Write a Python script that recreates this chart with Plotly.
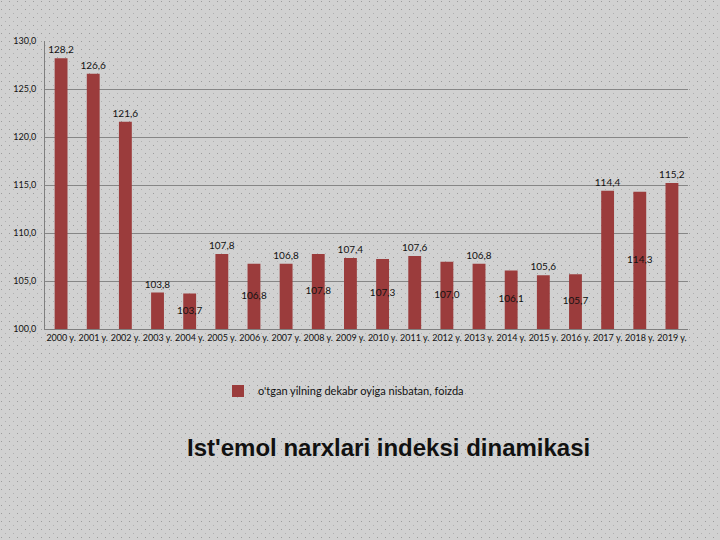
import base64
import plotly.graph_objects as go

years = ["2000 y.", "2001 y.", "2002 y.", "2003 y.", "2004 y.", "2005 y.", "2006 y.",
         "2007 y.", "2008 y.", "2009 y.", "2010 y.", "2011 y.", "2012 y.", "2013 y.",
         "2014 y.", "2015 y.", "2016 y.", "2017 y.", "2018 y.", "2019 y."]
values = [128.2, 126.6, 121.6, 103.8, 103.7, 107.8, 106.8, 106.8, 107.8, 107.4,
          107.3, 107.6, 107.0, 106.8, 106.1, 105.6, 105.7, 114.4, 114.3, 115.2]
label_outside = [True, True, True, True, False, True, False, True, False, True,
                 False, True, False, True, False, True, False, True, False, True]
y_ticks = [100, 105, 110, 115, 120, 125, 130]
y_tick_text = ["100,0", "105,0", "110,0", "115,0", "120,0", "125,0", "130,0"]
series_name = "o'tgan yilning dekabr oyiga nisbatan, foizda"
title_text = "Ist'emol narxlari indeksi dinamikasi"

W, H = 720, 540
L, R, T, B = 45, 32, 41, 211
pw, ph = W - L - R, H - T - B
Y0 = 100

svg = f'''<svg xmlns="http://www.w3.org/2000/svg" width="{W}" height="{H}">
<defs><pattern id="p" width="8" height="8" patternUnits="userSpaceOnUse">
<rect x="1" y="1" width="1" height="1" fill="#9c9c9c"/>
<rect x="5" y="5" width="1" height="1" fill="#b0b0b0"/>
</pattern></defs>
<rect width="{W}" height="{H}" fill="#d1d1d1"/>
<rect width="{W}" height="{H}" fill="url(#p)"/>
</svg>'''
img = "data:image/svg+xml;base64," + base64.b64encode(svg.encode()).decode()

def fmt(v):
    return f"{v:.1f}".replace(".", ",")

out_text = [fmt(v) if o else "" for v, o in zip(values, label_outside)]
in_x = [c for c, o in zip(years, label_outside) if not o]
in_y = [(Y0 + v) / 2 for v, o in zip(values, label_outside) if not o]
in_text = [fmt(v) for v, o in zip(values, label_outside) if not o]

label_font = dict(family="Lato, Carlito, sans-serif", size=10, color="#111111")

fig = go.Figure()
fig.add_trace(go.Bar(
    x=years, y=values, name=series_name,
    marker=dict(color="#9b3c3c", line=dict(width=0)),
    text=out_text, textposition="outside", textangle=0, constraintext="none",
    textfont=label_font, cliponaxis=False, hoverinfo="skip",
))
fig.add_trace(go.Scatter(
    x=in_x, y=in_y, text=in_text, mode="text", textposition="middle center",
    textfont=label_font, showlegend=False, hoverinfo="skip", cliponaxis=False,
))

fig.update_layout(
    width=W, height=H,
    margin=dict(l=L, r=R, t=T, b=B),
    paper_bgcolor="#d1d1d1",
    plot_bgcolor="rgba(0,0,0,0)",
    separators=",.",
    bargap=0.6,
    showlegend=True,
    legend=dict(x=(218 - L) / pw, y=(T + ph - 391) / ph, xanchor="left", yanchor="middle",
                orientation="h", bgcolor="rgba(0,0,0,0)",
                font=dict(family="Lato, Carlito, sans-serif", size=11, color="#111111"),
                itemwidth=30),
    font=dict(family="Lato, Carlito, sans-serif", size=9, color="#111111"),
    xaxis=dict(showgrid=False, showline=True, linecolor="#7f7f7f", linewidth=1,
               ticks="", tickfont=dict(size=9), tickangle=0, automargin=False),
    yaxis=dict(range=[Y0, 130], tickvals=y_ticks, ticktext=y_tick_text,
               showgrid=True, gridcolor="#868686", gridwidth=1,
               showline=True, linecolor="#7f7f7f", linewidth=1,
               ticks="", ticklen=0, tickfont=dict(size=9), automargin=False,
               zeroline=False, ticklabelstandoff=6),
    images=[dict(source=img, xref="paper", yref="paper",
                 x=-L / pw, y=1 + T / ph, sizex=W / pw, sizey=H / ph,
                 xanchor="left", yanchor="top", sizing="stretch", layer="below")],
    annotations=[dict(text=f"<b>{title_text}</b>", xref="paper", yref="paper",
                      x=(388 - L) / pw, y=(T + ph - 447) / ph, xanchor="center",
                      yanchor="middle", showarrow=False,
                      font=dict(family="Liberation Sans, Arial, sans-serif", size=24,
                                color="#111111"))],
)

fig.write_html("out.html", config={"displayModeBar": False},
               post_script="document.body.style.margin='0';document.body.style.padding='0';")
